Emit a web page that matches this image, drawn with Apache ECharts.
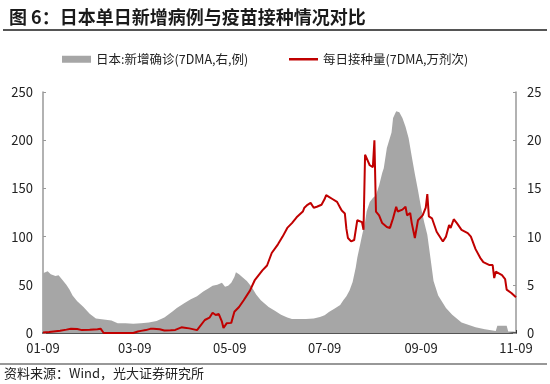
<!DOCTYPE html>
<html><head><meta charset="utf-8">
<script src="https://cdn.jsdelivr.net/npm/echarts@6/dist/echarts.min.js"></script>
<style>html,body{margin:0;padding:0;background:#fff}#c{width:550px;height:384px}</style>
</head><body><div id="c"></div>
<script>
const YEAR = 2021;
const titleText = '图 6：日本单日新增病例与疫苗接种情况对比';
const sourceText = '资料来源：Wind，光大证券研究所';
const caseName = '日本:新增确诊(7DMA,右,例)';
const doseName = '每日接种量(7DMA,万剂次)';
const xTickLabels = ['01-09','03-09','05-09','07-09','09-09','11-09'];

// 日本新增确诊 (right axis)
const caseDates = ['01-09','01-12','01-14','01-17','01-19','01-21','01-24','01-26','01-28','01-31',
  '02-04','02-08','02-12','02-17','02-22','02-26','03-03','03-08','03-13','03-18','03-23','03-28',
  '04-02','04-05','04-10','04-14','04-18','04-22','04-25','04-28','05-01','05-04','05-06','05-08',
  '05-10','05-12','05-13','05-15','05-17','05-20','05-23','05-26','05-29','06-03','06-07','06-11',
  '06-15','06-18','06-23','06-27','07-02','07-06','07-09','07-12','07-15','07-19','07-21','07-23',
  '07-25','07-27','07-29','07-30','08-01','08-02','08-04','08-05','08-07','08-09','08-11','08-13',
  '08-15','08-16','08-18','08-21','08-22','08-24','08-26','08-28','08-30','09-01','09-03','09-05',
  '09-07','09-09','09-11','09-13','09-15','09-17','09-20','09-25','09-29','10-05','10-14','10-20',
  '10-27','10-28','11-03','11-04','11-09'];
const caseValues = [6.2,6.4,6.1,5.9,6.0,5.6,5.0,4.5,3.9,3.3,
  2.7,2.0,1.5,1.4,1.3,1.0,1.0,0.95,1.0,1.1,1.25,1.6,
  2.2,2.6,3.1,3.5,3.8,4.3,4.6,4.9,5.0,5.2,4.8,4.9,
  5.2,5.8,6.3,6.1,5.8,5.4,4.8,4.0,3.4,2.7,2.3,1.9,
  1.6,1.45,1.45,1.45,1.5,1.65,1.85,2.2,2.5,2.9,3.4,3.8,
  4.4,5.3,6.8,7.8,9.3,10.1,11.5,12.6,13.6,14.0,14.3,15.3,
  16.6,17.1,19.2,20.8,22.3,23.0,22.9,22.3,21.4,20.2,18.3,16.5,
  14.8,13.0,11.5,10.2,7.8,5.4,3.9,2.6,1.9,1.1,0.6,0.4,
  0.2,0.75,0.75,0.15,0.15];

// 每日接种量 (left axis)
const doseDates = ['01-09','01-13','01-20','01-24','01-27','01-31','02-03','02-08','02-13','02-15',
  '02-16','02-17','03-08','03-11','03-13','03-16','03-19','03-21','03-25','03-28','04-01','04-04',
  '04-08','04-10','04-13','04-18','04-23','04-26','04-28','04-30','05-02','05-04','05-05','05-07',
  '05-10','05-12','05-15','05-18','05-22','05-25','05-30','06-02','06-05','06-09','06-12','06-15',
  '06-18','06-21','06-25','06-26','06-28','06-30','07-02','07-04','07-07','07-09','07-10','07-12',
  '07-14','07-17','07-19','07-20','07-22','07-23','07-24','07-26','07-28','07-30','08-02','08-03',
  '08-04','08-05','08-07','08-09','08-10','08-11','08-13','08-15','08-18','08-20','08-22','08-24',
  '08-25','08-28','08-30','08-31','09-02','09-03','09-05','09-07','09-10','09-12','09-13','09-14',
  '09-16','09-19','09-23','09-25','09-27','09-28','09-30','10-02','10-05','10-09','10-11','10-14',
  '10-17','10-19','10-23','10-25','10-26','10-27','10-31','11-02','11-03','11-06','11-09'];
const doseValues = [0.5,1,2.4,3.5,4.4,4.1,3,3.4,4,4.5,
  6.1,0,0,1.5,2.2,3,4.3,4.5,3.8,2.5,2.8,3.2,
  5.9,5.5,4.8,3,13.5,15.9,21,18.6,19.7,11.7,5.2,10,
  10.5,22,27,34,44,54.5,65,70,83,92,100,109,
  114,120,126,130,133,135,130,131,133,139,143,141,
  139,136,130,127,124,108,98.5,95,96.5,117,115,107,
  185,187,174,172,200,126,122,114,110,109,119,131,
  126,128,131,122,124.5,114,98.5,117,122,130,144,121,
  119,105,95,100,112,109,118,114,107,103.7,100,87,
  78,73.6,70.5,70.5,57,63.6,60,56,45,41.5,37];

function ts(md){const p=md.split('-').map(Number);return new Date(YEAR,p[0]-1,p[1]).getTime();}
function pad(n){return (n<10?'0':'')+n;}
function md(v){const d=new Date(v);return pad(d.getMonth()+1)+'-'+pad(d.getDate());}

const caseData = caseDates.map((d,i)=>[ts(d),caseValues[i]]);
const doseData = doseDates.map((d,i)=>[ts(d),doseValues[i]]);
const tickTs = xTickLabels.map(ts);

const FONT = 'Noto Sans CJK SC';
const chart = echarts.init(document.getElementById('c'), null, {renderer:'canvas'});
chart.setOption({
  animation:false,
  backgroundColor:'#fff',
  textStyle:{fontFamily:FONT},
  title:{text:titleText,left:4,top:3,textStyle:{fontSize:18,fontWeight:'bold',color:'#1a1a1a',fontFamily:FONT}},
  graphic:[
    {type:'line',shape:{x1:3,y1:30,x2:547,y2:30},style:{stroke:'#555',lineWidth:2},silent:true},
    {type:'line',shape:{x1:0,y1:364,x2:547,y2:364},style:{stroke:'#333',lineWidth:1.2},silent:true},
    {type:'text',left:4,top:367,style:{text:sourceText,fontSize:13,fill:'#222',fontFamily:FONT}}
  ],
  legend:[
    {left:62,top:53,padding:0,itemWidth:29,itemHeight:7,itemGap:5,
      textStyle:{fontSize:12.5,color:'#222',fontFamily:FONT},
      data:[{name:caseName,icon:'rect'}]},
    {left:289,top:53,padding:0,itemWidth:29,itemHeight:2.5,itemGap:5,
      textStyle:{fontSize:12.5,color:'#222',fontFamily:FONT},
      data:[{name:doseName,icon:'rect'}]}
  ],
  grid:{left:43,right:34,top:92,bottom:51,containLabel:false},
  xAxis:{
    type:'value',min:ts('01-09'),max:ts('11-09'),
    axisLine:{show:true,lineStyle:{color:'#555',width:2}},
    axisTick:{show:true,inside:true,length:3,customValues:tickTs,lineStyle:{color:'#333'}},
    axisLabel:{customValues:tickTs,formatter:(v)=>md(v),fontSize:13,color:'#222',margin:9,hideOverlap:false,showMinLabel:true,showMaxLabel:true},
    splitLine:{show:false}
  },
  yAxis:[
    {type:'value',min:0,max:250,interval:50,
      axisLine:{show:true,lineStyle:{color:'#999',width:1.5}},
      axisTick:{show:true,inside:true,length:3,lineStyle:{color:'#999'}},
      axisLabel:{fontSize:13,color:'#222',margin:10},
      splitLine:{show:false}},
    {type:'value',min:0,max:25,interval:5,position:'right',
      axisLine:{show:true,lineStyle:{color:'#999',width:1.5}},
      axisTick:{show:true,inside:true,length:3,lineStyle:{color:'#999'}},
      axisLabel:{fontSize:13,color:'#222',margin:11},
      splitLine:{show:false}}
  ],
  series:[
    {name:caseName,type:'line',yAxisIndex:1,data:caseData,symbol:'none',
      color:'#a6a6a6',lineStyle:{width:0},areaStyle:{color:'#a6a6a6',opacity:1},z:1},
    {name:doseName,type:'line',yAxisIndex:0,data:doseData,symbol:'none',
      color:'#c00000',lineStyle:{width:2,color:'#c00000'},z:3}
  ]
});
</script>
</body></html>
